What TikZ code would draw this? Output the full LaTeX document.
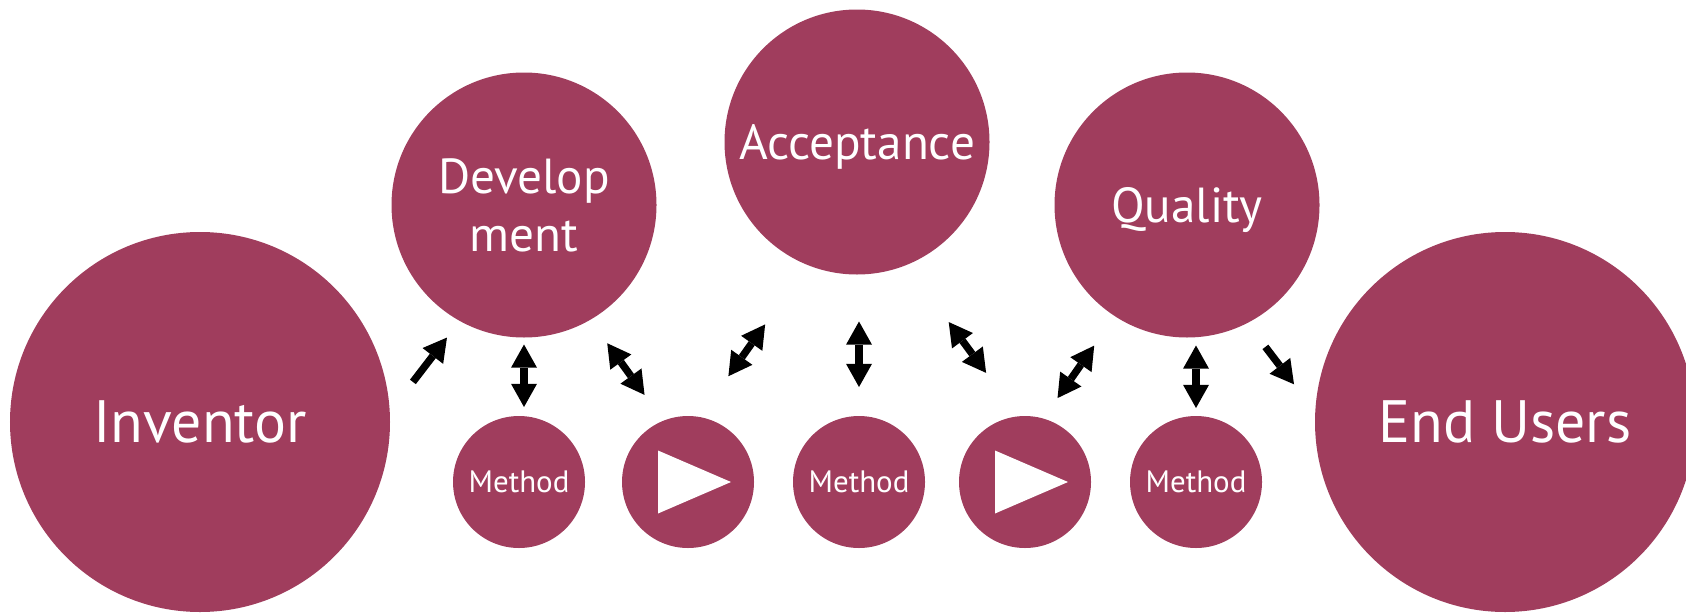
\documentclass[tikz,border=0pt]{standalone}
\usepackage{fontspec}
\setmainfont{PT Sans}
\usetikzlibrary{arrows.meta}
\definecolor{berry}{RGB}{160,61,93}

\tikzset{
	bubble/.style={circle, fill=berry, text=white, inner sep=0pt, outer sep=0pt, align=center, text depth=0pt},
	bigbubble/.style={bubble, minimum size=3.8cm, font=\fontsize{17}{20}\selectfont},
	midbubble/.style={bubble, minimum size=2.65cm, font=\fontsize{14}{16.5}\selectfont},
	smallbubble/.style={bubble, minimum size=1.32cm, font=\fontsize{8.8}{10}\selectfont},
	fatline/.style={line width=2.1pt, black},
	sglarrow/.style={fatline, -{Triangle[width=7.4pt,length=6.6pt,line width=0pt]}},
	dblarrow/.style={fatline, {Triangle[width=7.4pt,length=6.6pt,line width=0pt]}-{Triangle[width=7.4pt,length=6.6pt,line width=0pt]}}
}

\begin{document}
\begin{tikzpicture}
		%%%%% START %%%%%
		\useasboundingbox (0,0) rectangle (16.86,-6.12);
		
		\node[bigbubble] (inv) at (2.00,-4.22) {Inventor};
		\node[bigbubble] (endu) at (15.05,-4.22) {End Users};
		
		\node[midbubble] (dev) at (5.24,-2.05) {Develop\\ment};
		\node[midbubble] (acc) at (8.57,-1.42) {Acceptance};
		\node[midbubble] (qual) at (11.87,-2.05) {Quality};
		
		\node[smallbubble] (m1) at (5.19,-4.82) {Method};
		\node[smallbubble] (p1) at (6.88,-4.82) {};
		\node[smallbubble] (m2) at (8.59,-4.82) {Method};
		\node[smallbubble] (p2) at (10.25,-4.82) {};
		\node[smallbubble] (m3) at (11.96,-4.82) {Method};
		
		% play signs
		\fill[white] (p1.center) ++(-0.30,0.315) -- ++(0.73,-0.315) -- ++(-0.73,-0.315) -- cycle;
		\fill[white] (p2.center) ++(-0.30,0.315) -- ++(0.73,-0.315) -- ++(-0.73,-0.315) -- cycle;
		
		\draw[sglarrow, shorten <=0.38cm, shorten >=0.21cm] (inv.3.7) -- (dev.241);
		\draw[dblarrow, shorten <=0.07cm, shorten >=0.09cm] (dev.south) -- (dev.south |- m1.north);
		\draw[dblarrow, shorten <=0.29cm, shorten >=0.32cm] (dev.-60) -- (p1.112);
		
		\draw[dblarrow, shorten <=0.73cm, shorten >=0.50cm] (acc.248) -- (p1.80);
		\draw[dblarrow, shorten <=0.47cm, shorten >=0.29cm] (acc.south -| m2.north) -- (m2.north);
		\draw[dblarrow, shorten <=0.71cm, shorten >=0.54cm] (acc.-68.5) -- (p2.96);
		
		\draw[dblarrow, shorten <=0.36cm, shorten >=0.25cm] (qual.237.5) -- (p2.74);
		\draw[dblarrow, shorten <=0.08cm, shorten >=0.08cm] (qual.south -| m3.north) -- (m3.north);
		\draw[sglarrow, shorten <=0.30cm, shorten >=0.35cm] (qual.-63) -- (endu.177.7);
		
		%%%%% END %%%%%
\end{tikzpicture}
\end{document}
